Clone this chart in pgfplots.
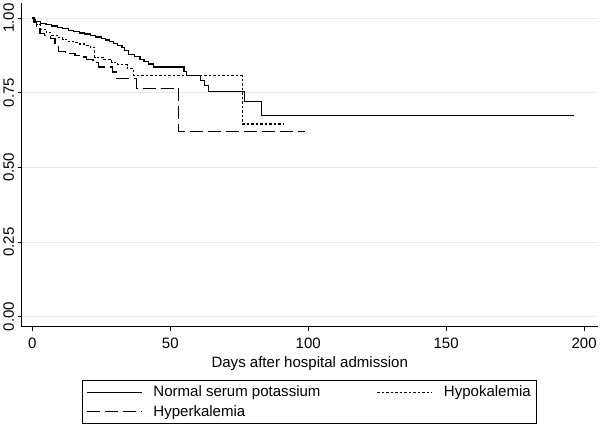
\documentclass[border=0pt]{standalone}
\usepackage{pgfplots}
\pgfplotsset{compat=1.18}
\usepackage{fontspec}
\setmainfont{Liberation Sans}
\newcommand{\fs}{\fontsize{15}{18}\selectfont}
\pgfplotstableread{
x y
0 1.000
0.5 0.993
1 0.987
3 0.982
5 0.978
7 0.973
9 0.969
11 0.964
13 0.959
15 0.955
17 0.950
19 0.946
21 0.941
23 0.936
25 0.932
26.5 0.926
28 0.921
29.5 0.915
31 0.909
32.5 0.900
33.5 0.890
35 0.879
37 0.871
39 0.862
40.5 0.854
42 0.846
44 0.836
55 0.822
56 0.808
61 0.790
62.5 0.773
64 0.754
77 0.720
83 0.673
196.4 0.673
}\normaltab
\pgfplotstableread{
x y
0 1.000
0.7 0.985
1.6 0.977
3 0.962
5 0.950
7 0.942
9 0.935
11 0.928
13 0.922
15 0.918
17 0.913
19 0.909
21 0.902
22.6 0.869
26 0.862
28.8 0.850
31 0.843
34.5 0.830
36.8 0.806
76.1 0.645
91.2 0.645
}\hypotab
\pgfplotstableread{
x y
0 1.000
0.5 0.985
1.5 0.970
2.8 0.948
4.5 0.940
6.5 0.930
8.2 0.915
9.5 0.887
12 0.881
15.5 0.875
17.5 0.869
19.7 0.860
22 0.850
24 0.836
29 0.819
30.4 0.797
37.9 0.765
53.1 0.621
99 0.621
}\hypertab
\begin{document}
\begin{tikzpicture}
\begin{axis}[
  scale only axis, width=575pt, height=322.7pt,
  xmin=-3.9, xmax=205, ymin=-0.033, ymax=1.05,
  axis x line*=bottom, axis y line*=left,
  axis line style={black, line width=0.8pt},
  xtick={0,50,100,150,200}, ytick={0,0.25,0.5,0.75,1},
  tick align=outside, major tick length=4pt,
  tick style={black, line width=0.8pt},
  ymajorgrids, grid style={gray!18, line width=0.8pt},
  tick label style={font=\fs, /pgf/number format/assume math mode=true},
  x tick label style={yshift=-4pt},
  y tick label style={/pgf/number format/fixed, /pgf/number format/fixed zerofill,
     /pgf/number format/precision=2, rotate=90, anchor=south},
  xlabel={Days after hospital admission},
  label style={font=\fs},
  xlabel style={yshift=-1pt},
  legend columns=2,
  legend cell align=left,
  legend image code/.code={\draw[#1] (0pt,0pt) -- (55pt,0pt);},
  legend style={at={(0.1043,-0.164)}, anchor=north west, draw=black,
     line width=0.8pt, font=\fs, inner xsep=4pt, inner ysep=4pt,
     row sep=3pt,
     /tikz/column 1/.style={column sep=9pt},
     /tikz/column 2/.style={column sep=54pt},
     /tikz/column 3/.style={column sep=9pt}},
]
\addplot[const plot, black, line width=1.2pt] table {\normaltab};
\addlegendentry{Normal serum potassium}
\addplot[const plot, black, line width=1.1pt, dash pattern=on 2.5pt off 2pt] table {\hypotab};
\addlegendentry{Hypokalemia}
\addplot[const plot, black, line width=1.2pt, dash pattern=on 13pt off 5pt] table {\hypertab};
\addlegendentry{Hyperkalemia}
\end{axis}
\end{tikzpicture}
\end{document}
